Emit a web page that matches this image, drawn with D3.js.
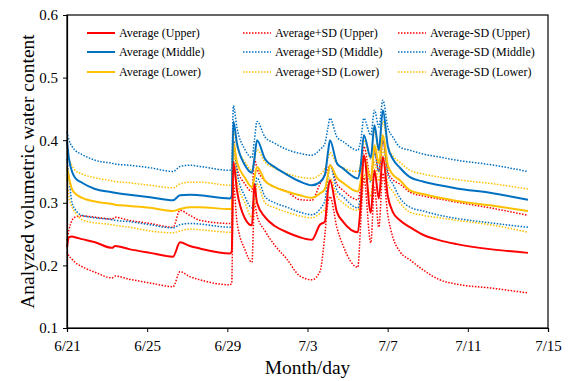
<!DOCTYPE html>
<html><head><meta charset="utf-8">
<script src="https://cdn.jsdelivr.net/npm/d3@7"></script>
<style>body{margin:0;background:#fff}svg{display:block}</style>
</head><body><svg id="c" width="568" height="381"></svg>
<script>
// Days since 6/21
const days = [0,0.1,0.25,0.4,0.75,1.4,2.25,2.4,3.1,4.14,5.29,5.64,6.13,6.63,8.13,8.22,8.3,8.48,8.88,9.23,9.35,9.48,9.88,10.37,10.97,11.62,12.22,12.62,12.87,13.02,13.12,13.47,13.77,14.51,14.66,14.81,15.16,15.34,15.56,15.76,16.01,16.26,16.61,17.11,17.76,18.6,19.45,21.1,23.0];
const avgUpper = [0.229,0.245,0.246,0.245,0.242,0.237,0.228,0.231,0.226,0.220,0.214,0.237,0.231,0.227,0.219,0.222,0.365,0.32,0.275,0.264,0.33,0.30,0.277,0.263,0.253,0.245,0.241,0.265,0.27,0.32,0.336,0.285,0.27,0.253,0.30,0.376,0.284,0.352,0.307,0.373,0.31,0.285,0.272,0.261,0.249,0.240,0.234,0.226,0.220];
const plusUpper = [0.24,0.257,0.272,0.277,0.279,0.277,0.274,0.277,0.272,0.267,0.261,0.288,0.28,0.272,0.267,0.27,0.40,0.355,0.33,0.318,0.37,0.355,0.335,0.325,0.318,0.305,0.304,0.33,0.345,0.355,0.36,0.33,0.32,0.305,0.33,0.39,0.34,0.385,0.35,0.40,0.35,0.337,0.33,0.317,0.311,0.306,0.301,0.292,0.28];
const minusUpper = [0.222,0.215,0.21,0.205,0.198,0.189,0.18,0.183,0.178,0.172,0.166,0.19,0.182,0.177,0.169,0.172,0.33,0.27,0.225,0.205,0.30,0.28,0.255,0.232,0.21,0.183,0.177,0.19,0.25,0.30,0.31,0.26,0.232,0.197,0.27,0.34,0.236,0.325,0.261,0.347,0.28,0.245,0.222,0.209,0.193,0.177,0.17,0.164,0.156];
const avgMiddle = [0.398,0.37,0.35,0.34,0.332,0.322,0.317,0.316,0.313,0.309,0.304,0.312,0.313,0.312,0.307,0.31,0.43,0.395,0.36,0.348,0.37,0.40,0.37,0.357,0.345,0.334,0.328,0.333,0.345,0.38,0.40,0.363,0.355,0.339,0.36,0.408,0.372,0.424,0.384,0.448,0.39,0.37,0.356,0.341,0.334,0.328,0.323,0.316,0.305];
const plusMiddle = [0.413,0.40,0.39,0.384,0.377,0.368,0.363,0.362,0.36,0.356,0.35,0.358,0.36,0.358,0.352,0.355,0.455,0.42,0.385,0.372,0.40,0.43,0.405,0.395,0.385,0.379,0.376,0.385,0.395,0.42,0.435,0.405,0.398,0.384,0.40,0.435,0.408,0.448,0.421,0.464,0.42,0.405,0.389,0.384,0.378,0.373,0.368,0.361,0.35];
const minusMiddle = [0.37,0.34,0.30,0.29,0.28,0.276,0.273,0.272,0.27,0.265,0.26,0.265,0.267,0.266,0.261,0.264,0.40,0.35,0.31,0.292,0.31,0.34,0.31,0.30,0.293,0.285,0.281,0.29,0.304,0.34,0.36,0.32,0.31,0.292,0.315,0.37,0.333,0.38,0.35,0.40,0.345,0.33,0.308,0.293,0.287,0.28,0.275,0.268,0.261];
const avgLower = [0.357,0.34,0.322,0.315,0.308,0.302,0.298,0.297,0.295,0.292,0.287,0.29,0.293,0.293,0.29,0.292,0.395,0.365,0.34,0.325,0.34,0.357,0.335,0.325,0.318,0.312,0.308,0.315,0.322,0.345,0.36,0.34,0.332,0.318,0.335,0.373,0.336,0.392,0.363,0.408,0.36,0.345,0.336,0.32,0.314,0.308,0.303,0.296,0.287];
const plusLower = [0.38,0.37,0.36,0.352,0.346,0.34,0.335,0.334,0.332,0.328,0.324,0.33,0.333,0.333,0.328,0.33,0.415,0.39,0.365,0.352,0.37,0.385,0.365,0.355,0.347,0.341,0.339,0.345,0.355,0.37,0.38,0.362,0.356,0.35,0.365,0.40,0.37,0.415,0.38,0.43,0.39,0.375,0.365,0.352,0.346,0.341,0.337,0.331,0.322];
const minusLower = [0.34,0.31,0.293,0.285,0.273,0.268,0.265,0.264,0.261,0.255,0.252,0.255,0.258,0.257,0.253,0.255,0.38,0.335,0.30,0.277,0.30,0.33,0.30,0.292,0.285,0.279,0.276,0.283,0.29,0.32,0.34,0.31,0.30,0.288,0.305,0.345,0.31,0.365,0.335,0.385,0.33,0.318,0.30,0.285,0.28,0.276,0.272,0.265,0.253];
const xTickLabels = ["6/21","6/25","6/29","7/3","7/7","7/11","7/15"];
const yTicks = [0.1,0.2,0.3,0.4,0.5,0.6];
const seriesNames = ["Average (Upper)","Average+SD (Upper)","Average-SD (Upper)","Average (Middle)","Average+SD (Middle)","Average-SD (Middle)","Average (Lower)","Average+SD (Lower)","Average-SD (Lower)"];

const RED="#FF0000", BLUE="#0070C0", ORANGE="#FFC000";
const FONT="'Liberation Serif','Times New Roman',serif";
const series = [
  {name:seriesNames[0], v:avgUpper, c:RED, dot:false},
  {name:seriesNames[1], v:plusUpper, c:RED, dot:true},
  {name:seriesNames[2], v:minusUpper, c:RED, dot:true},
  {name:seriesNames[3], v:avgMiddle, c:BLUE, dot:false},
  {name:seriesNames[4], v:plusMiddle, c:BLUE, dot:true},
  {name:seriesNames[5], v:minusMiddle, c:BLUE, dot:true},
  {name:seriesNames[6], v:avgLower, c:ORANGE, dot:false},
  {name:seriesNames[7], v:plusLower, c:ORANGE, dot:true},
  {name:seriesNames[8], v:minusLower, c:ORANGE, dot:true}
];

const L=67,R=548,T=15,B=328;
const svg=d3.select("#c");
const x=d3.scaleLinear().domain([0,24]).range([L,R]);
const y=d3.scaleLinear().domain([0.1,0.6]).range([B,T]);

const line=d3.line().x((d,i)=>x(days[i])).y(d=>y(d)).curve(d3.curveMonotoneX);
const g=svg.append("g");
const order=[1,2,4,5,7,8,6,3,0];
order.forEach(i=>{
  const s=series[i];
  g.append("path").attr("d",line(s.v)).attr("fill","none")
    .attr("stroke",s.c).attr("stroke-width",s.dot?1.5:2)
    .attr("stroke-dasharray",s.dot?"1.5,1.5":null)
    .attr("stroke-linejoin","round");
});

svg.append("rect").attr("x",L).attr("y",T).attr("width",R-L).attr("height",B-T)
  .attr("fill","none").attr("stroke","#000").attr("stroke-width",1.2);

const xAxis=d3.axisBottom(x).tickValues(d3.range(0,25,4)).tickSize(4)
  .tickFormat((d,i)=>xTickLabels[i]);
const xg=svg.append("g").attr("transform",`translate(0,${B})`).call(xAxis)
  .attr("font-family",FONT).attr("font-size",15);
xg.select(".domain").attr("stroke","#000").attr("stroke-width",1.2);
xg.selectAll("text").attr("font-family",FONT).attr("font-size",15).attr("dy","1.05em").attr("fill","#000");
const yAxis=d3.axisLeft(y).tickValues(yTicks).tickSize(4).tickFormat(d3.format(".1f"));
const yg=svg.append("g").attr("transform",`translate(${L},0)`).call(yAxis)
  .attr("font-family",FONT).attr("font-size",15);
yg.select(".domain").attr("stroke","#000").attr("stroke-width",1.2);
yg.selectAll("text").attr("font-family",FONT).attr("font-size",15).attr("x",-9).attr("fill","#000");

svg.append("text").attr("x",(L+R)/2).attr("y",374).attr("text-anchor","middle")
  .attr("font-family",FONT).attr("font-size",19.5).text("Month/day");
svg.append("text").attr("transform",`translate(34,${(T+B)/2}) rotate(-90)`)
  .attr("font-family",FONT).attr("text-anchor","middle").attr("font-size",19.5).text("Analyzed volumetric water content");

const colX=[87,243,398], rowY=[33,52,72];
series.forEach((s,i)=>{
  const row=Math.floor(i/3), col=i%3;
  const lx=colX[col], ly=rowY[row];
  svg.append("line").attr("x1",lx).attr("x2",lx+28).attr("y1",ly).attr("y2",ly)
    .attr("stroke",s.c).attr("stroke-width",s.dot?1.5:2)
    .attr("stroke-dasharray",s.dot?"1.5,1.5":null);
  svg.append("text").attr("x",lx+32).attr("y",ly+4).attr("font-family",FONT)
    .attr("font-size",12).text(s.name);
});
</script></body></html>
